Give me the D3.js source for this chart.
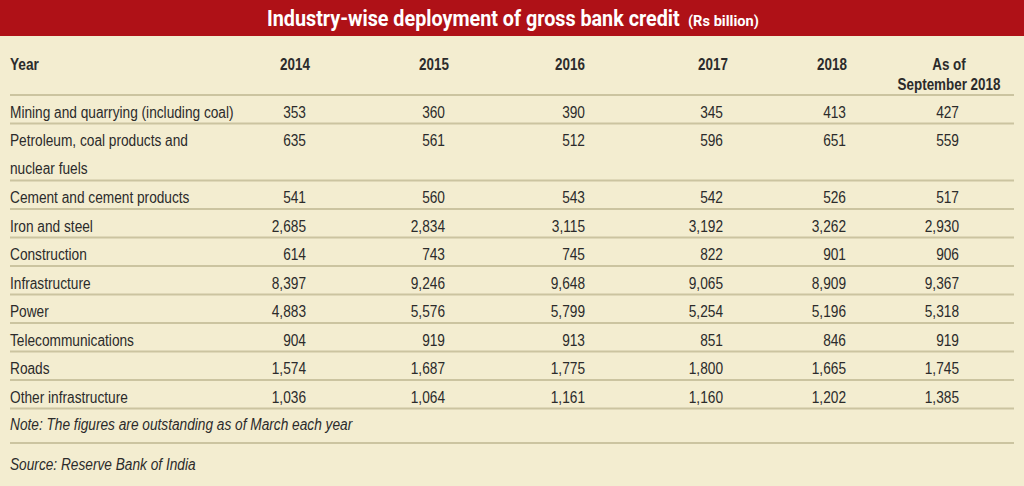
<!DOCTYPE html>
<html>
<head>
<meta charset="utf-8">
<script src="https://cdn.jsdelivr.net/npm/d3@7"></script>
<style>
  html, body { margin: 0; padding: 0; background: #f3edd0; }
  svg { display: block; }
</style>
</head>
<body>
<svg id="table" width="1024" height="486"></svg>
<script>
const width = 1024, height = 486;

// Column headers (last one is split on two lines)
const columns = ["2014", "2015", "2016", "2017", "2018", "As of|September 2018"];

// Row labels ("|" marks a line break)
const industries = [
    "Mining and quarrying (including coal)",
    "Petroleum, coal products and|nuclear fuels",
    "Cement and cement products",
    "Iron and steel",
    "Construction",
    "Infrastructure",
    "Power",
    "Telecommunications",
    "Roads",
    "Other infrastructure"
];

// Values per column, Rs billion
const v2014 = [353, 635, 541, 2685, 614, 8397, 4883, 904, 1574, 1036];
const v2015 = [360, 561, 560, 2834, 743, 9246, 5576, 919, 1687, 1064];
const v2016 = [390, 512, 543, 3115, 745, 9648, 5799, 913, 1775, 1161];
const v2017 = [345, 596, 542, 3192, 822, 9065, 5254, 851, 1800, 1160];
const v2018 = [413, 651, 526, 3262, 901, 8909, 5196, 846, 1665, 1202];
const vSep2018 = [427, 559, 517, 2930, 906, 9367, 5318, 919, 1745, 1385];

const title = "Industry-wise deployment of gross bank credit";
const unit = "(Rs billion)";
const note = "Note: The figures are outstanding as of March each year";
const source = "Source: Reserve Bank of India";

const series = [v2014, v2015, v2016, v2017, v2018, vSep2018];

const bodyFont = "'Liberation Sans', Arial, sans-serif";
const titleFont = "Roboto, 'Liberation Sans', sans-serif";
const textColor = "#2b2b2b";
const ruleColor = "#cbc4a0";
const squeeze = 0.855;   // the print face is a condensed gothic

// squeeze each text run horizontally, keeping its anchor
function condense(sel, k) {
    sel.each(function() {
        const len = this.getComputedTextLength();
        d3.select(this)
            .attr("textLength", len * k)
            .attr("lengthAdjust", "spacingAndGlyphs");
    });
}

// title pieces are squeezed with a transform so their box stays true
function fitTitle(str, x, size, w) {
    const g = svg.append("g");
    const t = g.append("text")
        .attr("fill", "#fff")
        .style("font-family", titleFont)
        .style("font-weight", "bold")
        .style("font-size", size + "px")
        .text(str);
    const k = w / t.node().getComputedTextLength();
    g.attr("transform", `translate(${x},26) scale(${k},1)`);
}

const svg = d3.select("#table");

// Red title band
svg.append("rect")
    .attr("x", 0).attr("y", 0)
    .attr("width", width).attr("height", 36)
    .attr("fill", "#af1117");

fitTitle(title, 267, 22, 413);
fitTitle(unit, 688, 15, 71);

// Column x: numbers are right-aligned on these edges
const colX = d3.scaleOrdinal().domain(columns).range([306, 445, 585, 723, 846, 959]);
const headX = d3.scaleOrdinal().domain(columns).range([295, 434, 570, 713, 832, 949]);

// Row y: each label line counts as one unit
const rowUnits = industries.map(s => s.split("|").length);
const rowStart = Array.from(d3.cumsum([0].concat(rowUnits)));
const y = d3.scaleLinear().domain([0, 1]).range([95, 123.5]);

// Header
svg.append("text")
    .attr("x", 10).attr("y", 70)
    .attr("fill", textColor)
    .style("font-family", bodyFont)
    .style("font-size", "16px")
    .style("font-weight", "bold")
    .text("Year")
    .call(condense, squeeze);

const heads = svg.append("g").selectAll("text")
    .data(columns)
    .join("text")
    .attr("x", d => headX(d))
    .attr("y", 70)
    .attr("text-anchor", "middle")
    .attr("fill", textColor)
    .style("font-family", bodyFont)
    .style("font-size", "16px")
    .style("font-weight", "bold");

heads.selectAll("tspan")
    .data(d => d.split("|").map(t => ({ t, x: headX(d) })))
    .join("tspan")
    .attr("x", d => d.x)
    .attr("dy", (d, i) => i === 0 ? 0 : 20)
    .text(d => d.t)
    .call(condense, squeeze * 0.98);

// Horizontal rules
const ruleY = rowStart.map(u => y(u)).concat([443]);
svg.append("g").selectAll("line")
    .data(ruleY)
    .join("line")
    .attr("x1", 10).attr("x2", 1014)
    .attr("y1", d => d).attr("y2", d => d)
    .attr("stroke", ruleColor)
    .attr("stroke-width", 2);

// Row labels
const labels = svg.append("g").selectAll("text")
    .data(industries)
    .join("text")
    .attr("x", 10)
    .attr("y", (d, i) => y(rowStart[i]) + 22.5)
    .attr("fill", textColor)
    .style("font-family", bodyFont)
    .style("font-size", "16px");

labels.selectAll("tspan")
    .data(d => d.split("|"))
    .join("tspan")
    .attr("x", 10)
    .attr("dy", (d, i) => i === 0 ? 0 : 28)
    .text(d => d)
    .call(condense, squeeze);

// Values
const fmt = d3.format(",");
svg.append("g").selectAll("g")
    .data(series)
    .join("g")
    .each(function(vals, c) {
        d3.select(this).selectAll("text")
            .data(vals)
            .join("text")
            .attr("x", colX(columns[c]))
            .attr("y", (d, i) => y(rowStart[i]) + 22.5)
            .attr("text-anchor", "end")
            .attr("fill", textColor)
            .style("font-family", bodyFont)
            .style("font-size", "16px")
            .text(d => fmt(d))
            .call(condense, squeeze);
    });

// Note and source
svg.append("text")
    .attr("x", 10).attr("y", 430)
    .attr("fill", textColor)
    .style("font-family", bodyFont)
    .style("font-size", "16px")
    .style("font-style", "italic")
    .text(note)
    .call(condense, squeeze);

svg.append("text")
    .attr("x", 10).attr("y", 470)
    .attr("fill", textColor)
    .style("font-family", bodyFont)
    .style("font-size", "16px")
    .style("font-style", "italic")
    .text(source)
    .call(condense, squeeze);
</script>
</body>
</html>
